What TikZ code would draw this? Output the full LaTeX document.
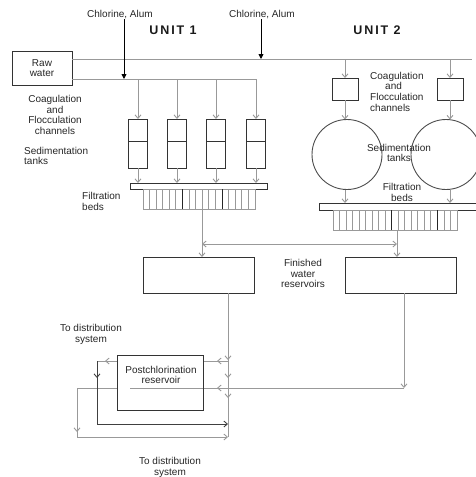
\documentclass[tikz,border=0pt]{standalone}
\usepackage{fontspec}
\setmainfont{Liberation Sans}
\newfontfamily\unitfont[LetterSpace=15]{Liberation Sans}
\usetikzlibrary{arrows.meta,decorations.markings,calc}
\begin{document}
\begin{tikzpicture}[x=1pt,y=-1pt,
  box/.style={draw=black!80, line width=0.9pt, fill=white, inner sep=0pt, outer sep=0pt},
  combbox/.style={draw=gray!80, line width=0.9pt, inner sep=0pt, outer sep=0pt},
  lbl/.style={text=black!85, font=\fontsize{10}{10.7}\selectfont, align=center, inner sep=0pt},
  unitlbl/.style={text=black!90, font={\unitfont\bfseries\fontsize{12.5}{14}\selectfont}, inner sep=0pt},
  conn/.style={draw=gray!80, line width=0.9pt},
  dconn/.style={draw=black!75, line width=0.9pt},
  tip/.style={-{Straight Barb[length=3.5pt,width=6pt]}},
  bothtips/.style={{Straight Barb[length=3.5pt,width=6pt]}-{Straight Barb[length=3.5pt,width=6pt]}},
  chl/.style={draw=black, line width=0.9pt, -{Triangle[length=5pt,width=5pt]}},
  arrowat/.style={postaction={decorate,decoration={markings,mark=at position #1 with {\arrow{Straight Barb[length=3.5pt,width=6pt]}}}}},
  tankline/.style={draw=black!80, line width=0.9pt},
  combline/.style={draw=gray!80, line width=0.9pt},
  darkcomb/.style={draw=black!85, line width=0.9pt}
]
\useasboundingbox (0,0) rectangle (475,477);

% ---------- top labels ----------
\node[lbl] (ch1) at (120,15) {Chlorine, Alum};
\node[lbl] (ch2) at (262,15) {Chlorine, Alum};
\node[unitlbl] (u1) at (173,30) {UNIT 1};
\node[unitlbl] (u2) at (377,30) {UNIT 2};

% ---------- raw water ----------
\node[box, lbl, draw=black!80, minimum width=60pt, minimum height=34pt] (raw) at (42,68) {Raw\\water};

% ---------- unit 1 tanks ----------
\foreach \n/\x in {t1/138,t2/177,t3/216,t4/256}{
  \node[box, minimum width=19.5pt, minimum height=49pt] (\n) at (\x,143.5) {};
  \draw[tankline] (\n.west |- 0,141) -- (\n.east |- 0,141);
}

% ---------- unit 1 filter ----------
\node[box, minimum width=137pt, minimum height=6pt] (f1p) at (198.5,186) {};
\node[combbox, minimum width=112pt, minimum height=20pt] (f1c) at (199,199) {};
\foreach \i in {1,...,16}
  \draw[combline] ($(f1c.north west)!\i/17!(f1c.north east)$) -- ($(f1c.south west)!\i/17!(f1c.south east)$);
\foreach \i in {6,12}
  \draw[darkcomb] ($(f1c.north west)!\i/17!(f1c.north east)$) -- ($(f1c.south west)!\i/17!(f1c.south east)$);

% ---------- unit 2 ----------
\node[box, minimum width=26pt, minimum height=22pt] (c2a) at (345,89) {};
\node[box, minimum width=26pt, minimum height=22pt] (c2b) at (450,89) {};
\node[draw=black!70, circle, line width=0.9pt, minimum size=70pt, inner sep=0pt, outer sep=0pt] (s2a) at (347,154.5) {};
\node[draw=black!70, circle, line width=0.9pt, minimum size=70pt, inner sep=0pt, outer sep=0pt] (s2b) at (446,154.5) {};
\node[box, minimum width=161pt, minimum height=7pt] (f2p) at (399.5,206.5) {};
\node[combbox, minimum width=124pt, minimum height=20pt] (f2c) at (395,220) {};
\foreach \i in {1,...,18}
  \draw[combline] ($(f2c.north west)!\i/19!(f2c.north east)$) -- ($(f2c.south west)!\i/19!(f2c.south east)$);
\foreach \i in {9,16}
  \draw[darkcomb] ($(f2c.north west)!\i/19!(f2c.north east)$) -- ($(f2c.south west)!\i/19!(f2c.south east)$);

% ---------- reservoirs ----------
\node[box, minimum width=111pt, minimum height=36pt] (res1) at (198.5,275) {};
\node[box, minimum width=111pt, minimum height=36pt] (res2) at (400.5,275) {};

% ---------- junction coordinates ----------
\coordinate (jA) at (124,79);
\coordinate (jB) at (261,59);
\coordinate (o1) at (202,244);
\coordinate (o2) at (397,244);
\coordinate (m1) at (228,437);
\coordinate (m2) at (228,388);
\coordinate (m3) at (228,361);
\coordinate (m4) at (228,424);
\coordinate (r1) at (404,388);
\coordinate (a1) at (97,361);
\coordinate (a2) at (97,424);
\coordinate (b1) at (77,388);
\coordinate (b2) at (77,437);
\coordinate (hend) at (472,59);

% ---------- raw water distribution ----------
\draw[conn] (raw.east |- jB) -- (hend);
\draw[conn,tip] (raw.east |- jA) -| (t4.north);
\foreach \n in {t1,t2,t3}
  \draw[conn,tip] (\n.north |- jA) -- (\n.north);
\draw[chl] (ch1.south -| jA) -- (jA);
\draw[chl] (ch2.south -| jB) -- (jB);

% unit 1 flows
\foreach \n in {t1,t2,t3,t4}
  \draw[conn,tip] (\n.south) -- (\n.south |- f1p.north);

% unit 2 flows
\draw[conn,tip] (c2a.north |- jB) -- (c2a.north);
\draw[conn,tip] (c2b.north |- jB) -- (c2b.north);
\draw[conn,tip] (c2a.south) -- (c2a.south |- s2a.north);
\draw[conn,tip] (c2b.south) -- (c2b.south |- s2b.north);
\draw[conn,tip] (s2a.south -| c2a) -- (f2p.north -| c2a);
\draw[conn,tip] (s2b.south -| c2b) -- (f2p.north -| c2b);

% filter outputs to reservoirs
\draw[conn,tip] (f1c.south -| o1) -- (res1.north -| o1);
\draw[conn,tip] (f2c.south -| o2) -- (res2.north -| o2);
\draw[conn,bothtips] (o1) -- (o2);

% ---------- finished water to postchlorination ----------
\draw[conn, arrowat=67pt, arrowat=85pt, arrowat=105pt] (res1.south -| m1) -- (m1);
\draw[conn,tip] (res2.south -| r1) -- (r1);
\draw[conn] (r1) -- (m2);
\draw[conn,tip,arrowat=11pt,arrowat=195pt] (m2) -- (b1) -- (b2) -- (m1);
\draw[conn,arrowat=11pt,arrowat=123pt] (m3) -- (a1);
\draw[dconn,tip,arrowat=17pt] (a1) -- (a2) -- (m4);

\node[box, minimum width=86pt, minimum height=55pt] (post) at (160,382.5) {};
\draw[conn] (post.east |- m2) -- ++(-73,0);
\node[lbl] (ptxt) at (161,375) {Postchlorination\\reservoir};

% ---------- labels ----------
\node[lbl] (l1) at (55,115) {Coagulation\\and\\Flocculation\\channels};
\node[lbl, align=left, anchor=west] (l2) at (24,156) {Sedimentation\\tanks};
\node[lbl, align=left, anchor=west] (l3) at (82,201.5) {Filtration\\beds};
\node[lbl, align=left, anchor=west] (l4) at (370,91.5) {Coagulation\\\hspace*{15pt}and\\Flocculation\\channels};
\node[lbl] (l5) at (399,153) {Sedimentation\\tanks};
\node[lbl] (l6) at (402,192.5) {Filtration\\beds};
\node[lbl] (l7) at (303,273.5) {Finished\\water\\reservoirs};
\node[lbl] (l8) at (91,334.5) {To distribution\\system};
\node[lbl] (l9) at (170,467.5) {To distribution\\system};
\end{tikzpicture}
\end{document}
